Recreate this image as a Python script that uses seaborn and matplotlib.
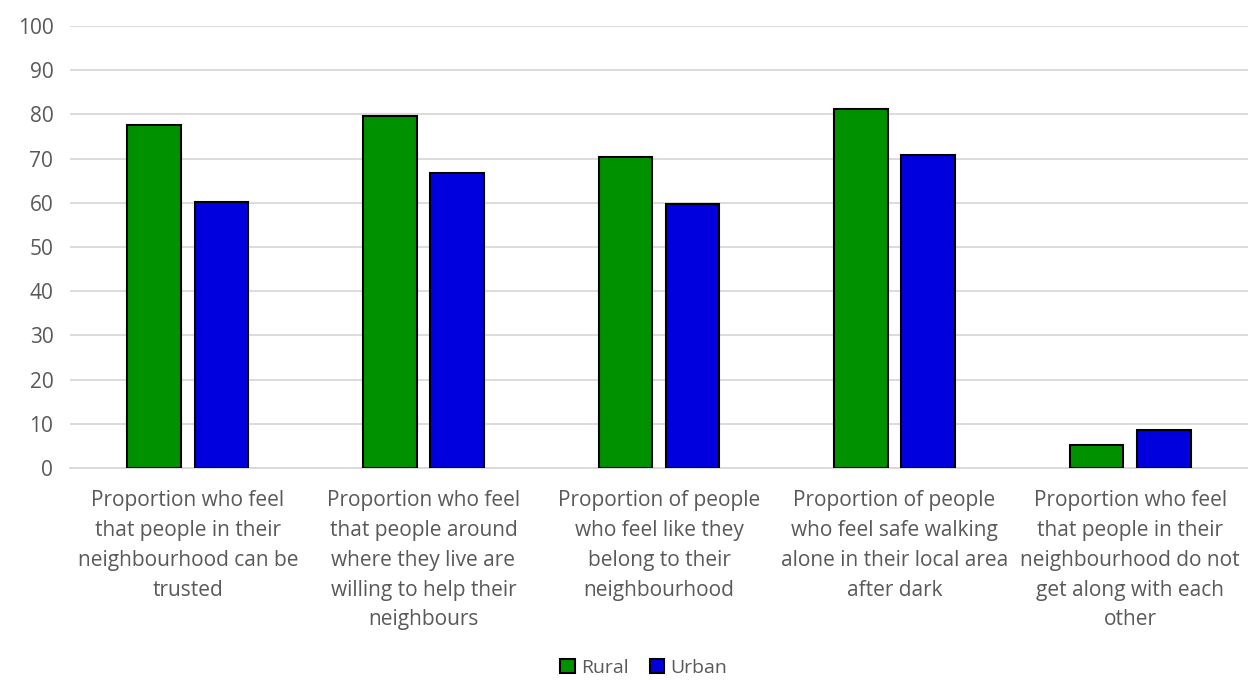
import matplotlib

matplotlib.use('Agg')
import matplotlib.pyplot as plt
import seaborn as sns
import pandas as pd

# chart data
categories = [
    'Proportion who feel\nthat people in their\nneighbourhood can be\ntrusted',
    'Proportion who feel\nthat people around\nwhere they live are\nwilling to help their\nneighbours',
    'Proportion of people\nwho feel like they\nbelong to their\nneighbourhood',
    'Proportion of people\nwho feel safe walking\nalone in their local area\nafter dark',
    'Proportion who feel\nthat people in their\nneighbourhood do not\nget along with each\nother',
]
rural = [77.7, 79.6, 70.3, 81.2, 5.2]
urban = [60.2, 66.8, 59.8, 70.9, 8.6]
series_names = ['Rural', 'Urban']
y_ticks = list(range(0, 101, 10))

df = pd.DataFrame({
    'category': categories * 2,
    'value': rural + urban,
    'area': [series_names[0]] * len(rural) + [series_names[1]] * len(urban),
})

sns.set_style('white')
plt.rcParams['font.family'] = ['Open Sans', 'DejaVu Sans']
text_color = '#595959'

fig = plt.figure(figsize=(12.48, 6.8), dpi=100)
ax = fig.add_axes([70 / 1248, 1 - 468 / 680, 1 - 70 / 1248, (468 - 26) / 680])

sns.barplot(data=df, x='category', y='value', hue='area',
            palette=['#009100', '#0000DE'], saturation=1, width=0.57, gap=0.2,
            edgecolor='black', linewidth=1.5, ax=ax, zorder=3)

ax.set_ylim(0, 100)
ax.set_yticks(y_ticks)
ax.set_xlim(-0.5, len(categories) - 0.5)
ax.grid(axis='y', color='#d9d9d9', linewidth=1.3, zorder=0)
ax.set_axisbelow(True)
for side in ['top', 'right', 'left']:
    ax.spines[side].set_visible(False)
ax.spines['bottom'].set_color('#d9d9d9')
ax.spines['bottom'].set_linewidth(1.3)
ax.tick_params(axis='both', length=0, colors=text_color, labelsize=15)
ax.tick_params(axis='y', pad=12)
ax.tick_params(axis='x', pad=16)
for lbl in ax.get_xticklabels():
    lbl.set_linespacing(1.55)
ax.set_xlabel('')
ax.set_ylabel('')

ax.legend(loc='center', bbox_to_anchor=(0.487, -0.452), ncol=2, frameon=False,
          fontsize=14, labelcolor=text_color, handlelength=0.75, handleheight=0.75,
          handletextpad=0.3, columnspacing=1.1, borderpad=0.1)

fig.savefig('out.png', dpi=100)
